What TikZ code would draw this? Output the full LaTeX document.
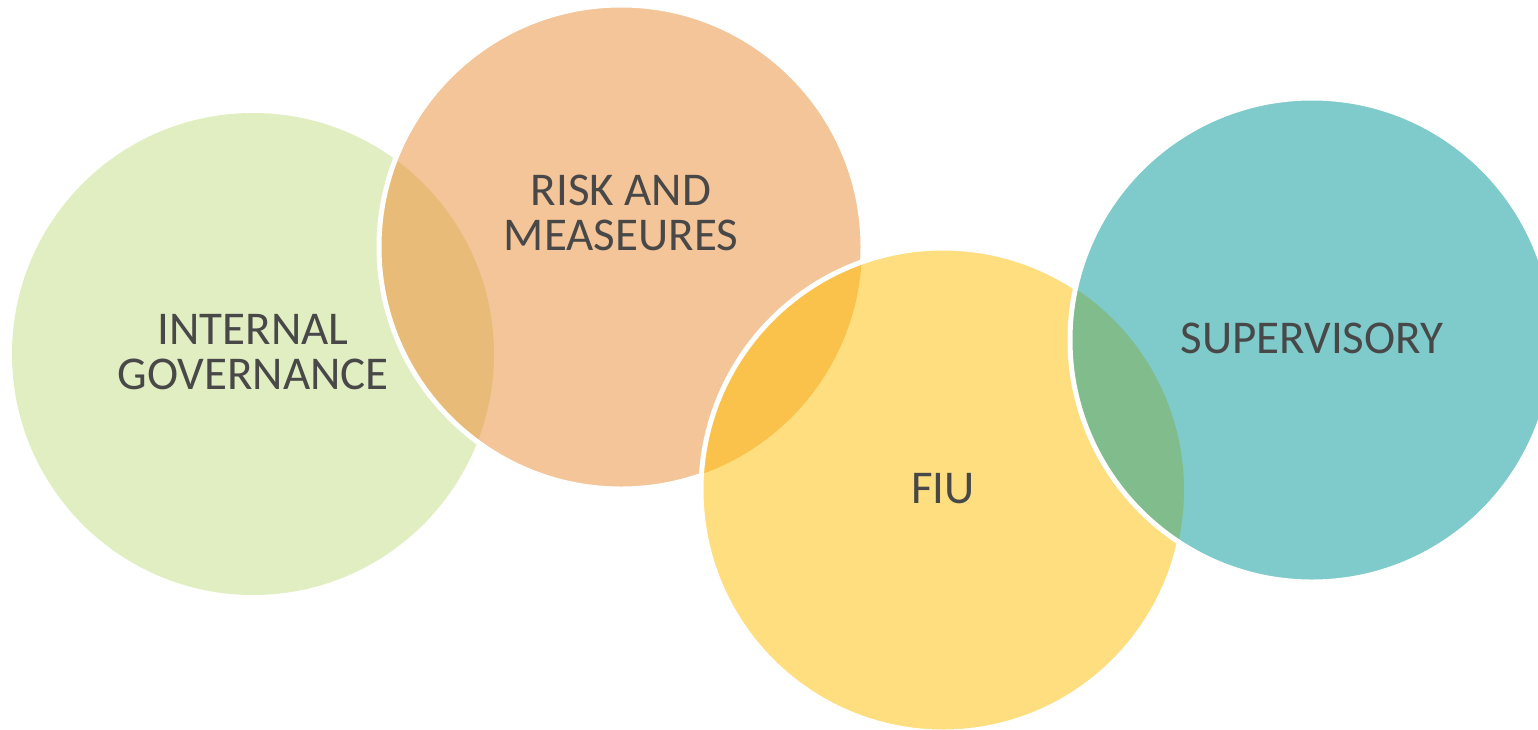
\documentclass[tikz,border=0pt]{standalone}
\usepackage{fontspec}
\setmainfont{Carlito}
\usepackage{tikz}
\definecolor{govgreen}{RGB}{225, 238, 194}
\definecolor{riskorange}{RGB}{244, 197, 152}
\definecolor{fiuyellow}{RGB}{255, 222, 128}
\definecolor{supteal}{RGB}{127, 203, 203}
\definecolor{govrisk}{RGB}{232, 188, 120}
\definecolor{riskfiu}{RGB}{250, 194, 74}
\definecolor{fiusup}{RGB}{128, 188, 140}
\definecolor{textgray}{RGB}{72, 72, 72}

\begin{document}
\begin{tikzpicture}[
    x=0.5pt, y=-0.5pt,
    rim/.style={draw=white, line width=2.5pt},
    bubbletext/.style={align=center, text=textgray, font=\fontsize{23.5pt}{22.5pt}\selectfont}
]
\useasboundingbox (0,0) rectangle (1538,729);
\clip (0,0) rectangle (1538,729);

\coordinate (govc) at (253,354);
\coordinate (riskc) at (621,247);
\coordinate (fiuc) at (943,490);
\coordinate (supc) at (1312,340);

% circles, each one over the last
\fill[govgreen] (govc) circle[radius=120.5pt];

\fill[riskorange] (riskc) circle[radius=120.5pt];
\begin{scope}
  \clip (govc) circle[radius=120.5pt];
  \fill[govrisk] (riskc) circle[radius=120.5pt];
\end{scope}
\draw[rim] (riskc) circle[radius=121pt];

\fill[fiuyellow] (fiuc) circle[radius=120.5pt];
\begin{scope}
  \clip (riskc) circle[radius=120.5pt];
  \fill[riskfiu] (fiuc) circle[radius=120.5pt];
\end{scope}
\draw[rim] (fiuc) circle[radius=121pt];

\fill[supteal] (supc) circle[radius=120.5pt];
\begin{scope}
  \clip (fiuc) circle[radius=120.5pt];
  \fill[fiusup] (supc) circle[radius=120.5pt];
\end{scope}
\draw[rim] (supc) circle[radius=121pt];

% labels
\node[bubbletext] (gov) at (253,352) {INTERNAL\\GOVERNANCE};
\node[bubbletext] (risk) at (621,213) {RISK AND\\MEASEURES};
\node[bubbletext] (fiu) at (943,489) {FIU};
\node[bubbletext] (sup) at (1312,338) {SUPERVISORY};

\end{tikzpicture}
\end{document}
